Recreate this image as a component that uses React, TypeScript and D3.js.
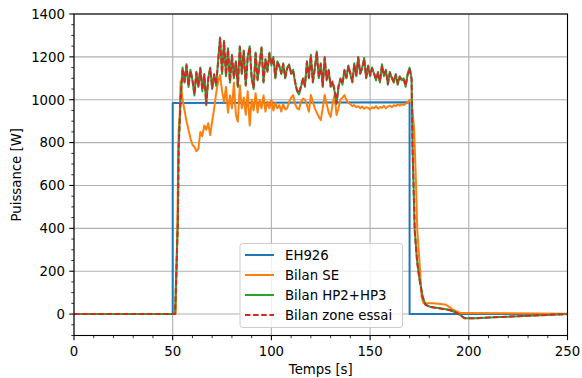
import React from "react";
import * as d3 from "d3";

// ---------- DATA ----------
const coreSeconds = [
  54, 55, 56, 57, 58, 59, 60, 61, 62, 63, 64, 65, 66, 67, 68, 69, 70, 71, 72, 73,
  74, 75, 76, 77, 78, 79, 80, 81, 82, 83, 84, 85, 86, 87, 88, 89, 90, 91, 92, 93,
  94, 95, 96, 97, 98, 99, 100, 101, 102, 103, 104, 105, 106, 107, 108, 109, 110, 111, 112, 113,
  114, 115, 116, 117, 118, 119, 120, 121, 122, 123, 124, 125, 126, 127, 128, 129, 130, 131, 132, 133,
  134, 135, 136, 137, 138, 139, 140, 141, 142, 143, 144, 145, 146, 147, 148, 149, 150, 151, 152, 153,
  154, 155, 156, 157, 158, 159, 160, 161, 162, 163, 164, 165, 166, 167, 168, 169, 170,
];

// EH926 (step)
const ehSeconds = [0, 50, 50, 170, 170, 250];
const ehWatts = [0, 0, 985, 988, 0, 0];

// Bilan SE
const seHeadSeconds = [0, 51.5, 52, 52.5, 53, 53.5];
const seHeadWatts = [0, 0, 200, 520, 850, 920];
const seCoreWatts = [
  1085, 1000, 950, 900, 860, 820, 790, 780, 760, 770, 850, 830, 880, 860, 890, 835, 900, 960, 1030, 1085,
  1115, 1040, 990, 1060, 940, 1020, 960, 1080, 930, 897, 1068, 960, 1010, 930, 1040, 880, 1000, 950, 1030, 940,
  1000, 960, 1020, 945, 990, 960, 1000, 950, 985, 960, 975, 945, 980, 955, 960, 990, 1010, 1022, 980, 960,
  955, 990, 1005, 1000, 975, 944, 1022, 990, 960, 940, 920, 905, 960, 1022, 980, 940, 920, 980, 1022, 929,
  960, 1000, 1010, 1022, 1000, 985, 980, 970, 975, 965, 970, 960, 968, 958, 965, 962, 955, 965, 960, 970,
  958, 966, 962, 972, 960, 968, 972, 965, 975, 970, 978, 972, 980, 975, 982, 985, 1000,
];
const seTailSeconds = [171, 172.3, 173.2, 173.9, 175.3, 176.1, 177, 182, 188, 189.5, 192, 195.5, 200, 220, 250];
const seTailWatts = [1000, 860, 625, 392, 205, 80, 52, 50, 45, 37, 20, 5, 5, 4, 1];

// Bilan HP2+HP3
const hpHeadSeconds = [0, 51.2, 51.8, 52.6, 53, 53.5];
const hpHeadWatts = [0, 0, 190, 424, 780, 890];
const hpCoreWatts = [
  1000, 1150, 1080, 1165, 1060, 1140, 1090, 1020, 1130, 1060, 1150, 1040, 1120, 975, 1100, 1150, 1050, 1120, 1065, 1180,
  1290, 1120, 1275, 1110, 1240, 1080, 1210, 1100, 1180, 1060, 1250, 1120, 1230, 1065, 1200, 1250, 1100, 1050, 1220, 1090,
  1170, 1245, 1080, 1190, 1130, 1220, 1160, 1200, 1100, 1180, 1160, 1120, 1170, 1100, 1150, 1165, 1120, 1140, 1080, 1040,
  1025, 1060, 1100, 1060, 1180, 1100, 1210, 1080, 1150, 1225, 1100, 1170, 1060, 1200, 1090, 1140, 1060, 1080, 1040, 980,
  1060, 1100, 1070, 1140, 1100, 1160, 1120, 1080, 1170, 1110, 1200, 1120, 1150, 1195, 1100, 1160, 1110, 1150, 1120, 1090,
  1130, 1080, 1165, 1110, 1140, 1070, 1130, 1100, 1080, 1120, 1070, 1110, 1090, 1100, 1060, 1120, 1150,
];
const hpTailSeconds = [171, 171.5, 172.6, 173.8, 174.9, 176.6, 178, 180.3, 187, 190.5, 194, 198, 204, 210, 220, 230, 240, 250];
const hpTailWatts = [1100, 780, 392, 250, 170, 81, 45, 34, 25, 19, 5, -19, -19, -16, -12, -8, -4, 0];

// Bilan zone essai
const zeHeadSeconds = [0, 51.2, 51.8, 52.6, 53, 53.5];
const zeHeadWatts = [0, 0, 185, 420, 775, 885];
const zeCoreWatts = [
  1005, 1145, 1085, 1160, 1065, 1135, 1095, 1025, 1125, 1065, 1145, 1045, 1115, 980, 1095, 1145, 1055, 1115, 1070, 1175,
  1285, 1125, 1270, 1115, 1235, 1085, 1205, 1105, 1175, 1065, 1245, 1125, 1225, 1070, 1195, 1245, 1105, 1055, 1215, 1095,
  1165, 1240, 1085, 1185, 1135, 1215, 1165, 1195, 1105, 1175, 1155, 1125, 1165, 1105, 1145, 1160, 1125, 1135, 1085, 1045,
  1030, 1065, 1095, 1065, 1175, 1105, 1205, 1085, 1145, 1220, 1105, 1165, 1065, 1195, 1095, 1135, 1065, 1085, 1045, 985,
  1065, 1095, 1075, 1135, 1105, 1155, 1125, 1085, 1165, 1115, 1195, 1125, 1145, 1190, 1105, 1155, 1115, 1145, 1125, 1095,
  1125, 1085, 1160, 1115, 1135, 1075, 1125, 1105, 1085, 1115, 1075, 1105, 1095, 1095, 1065, 1115, 1145,
];
const zeTailSeconds = [171, 171.5, 172.6, 173.8, 174.9, 176.6, 178, 180.3, 187, 190.5, 194, 198, 204, 210, 220, 230, 240, 250];
const zeTailWatts = [1095, 775, 390, 245, 168, 80, 44, 33, 24, 18, 4, -20, -19, -16, -12, -8, -4, 0];

const xTicks = [0, 50, 100, 150, 200, 250];
const yTicks = [0, 200, 400, 600, 800, 1000, 1200, 1400];
const legendLabels = ["EH926", "Bilan SE", "Bilan HP2+HP3", "Bilan zone essai"];

// ---------- LAYOUT ----------
const W = 582;
const H = 378;
const L = 74;
const R = 567.5;
const T = 14;
const B = 335.5;
const FONT = "DejaVu Sans, sans-serif";
const FS = 13.3;

type Pt = [number, number];
function zip(t: number[], w: number[]): Pt[] {
  return t.map((v, i) => [v, w[i]] as Pt);
}

export default function App() {
  const x = d3.scaleLinear().domain([0, 250]).range([L, R]);
  const y = d3.scaleLinear().domain([-100, 1400]).range([B, T]);
  const line = d3
    .line<Pt>()
    .x((d) => x(d[0]))
    .y((d) => y(d[1]));

  const eh = zip(ehSeconds, ehWatts);
  const se = [
    ...zip(seHeadSeconds, seHeadWatts),
    ...zip(coreSeconds, seCoreWatts),
    ...zip(seTailSeconds, seTailWatts),
  ];
  const hp = [
    ...zip(hpHeadSeconds, hpHeadWatts),
    ...zip(coreSeconds, hpCoreWatts),
    ...zip(hpTailSeconds, hpTailWatts),
  ];
  const ze = [
    ...zip(zeHeadSeconds, zeHeadWatts),
    ...zip(coreSeconds, zeCoreWatts),
    ...zip(zeTailSeconds, zeTailWatts),
  ];

  const xMinor = d3.range(0, 251, 10).filter((v) => v % 50 !== 0);
  const yMinor = d3.range(-100, 1401, 50).filter((v) => v % 200 !== 0);

  const series = [
    { d: eh, color: "#1f77b4", dash: undefined as string | undefined },
    { d: se, color: "#ff7f0e", dash: undefined },
    { d: hp, color: "#2ca02c", dash: undefined },
    { d: ze, color: "#d62728", dash: "5.5,2.6" },
  ];

  const legX = 240;
  const legY = 243.5;
  const rowY = [255, 275, 295, 315];

  return (
    <svg
      width={W}
      height={H}
      style={{ position: "absolute", left: 0, top: 0, background: "#fff" }}
      fontFamily={FONT}
    >
      <defs>
        <clipPath id="plot">
          <rect x={L} y={T} width={R - L} height={B - T} />
        </clipPath>
      </defs>
      <rect width={W} height={H} fill="#fff" />
      {/* grid */}
      {xTicks.map((t) => (
        <line key={"gx" + t} x1={x(t)} x2={x(t)} y1={T} y2={B} stroke="#b0b0b0" strokeWidth={1.1} />
      ))}
      {yTicks.map((t) => (
        <line key={"gy" + t} x1={L} x2={R} y1={y(t)} y2={y(t)} stroke="#b0b0b0" strokeWidth={1.1} />
      ))}
      {/* series */}
      <g clipPath="url(#plot)">
        {series.map((s, i) => (
          <path
            key={i}
            d={line(s.d) || ""}
            fill="none"
            stroke={s.color}
            strokeWidth={2}
            strokeDasharray={s.dash}
            strokeLinejoin="round"
          />
        ))}
      </g>
      {/* spines */}
      <rect x={L} y={T} width={R - L} height={B - T} fill="none" stroke="#000" strokeWidth={1.1} />
      {/* x ticks */}
      {xTicks.map((t) => (
        <g key={"xt" + t}>
          <line x1={x(t)} x2={x(t)} y1={B} y2={B + 4.7} stroke="#000" strokeWidth={1.1} />
          <text x={x(t)} y={B + 20.5} fontSize={FS} textAnchor="middle" fill="#000">
            {t}
          </text>
        </g>
      ))}
      {xMinor.map((t) => (
        <line key={"xm" + t} x1={x(t)} x2={x(t)} y1={B} y2={B + 2.7} stroke="#000" strokeWidth={0.8} />
      ))}
      {/* y ticks */}
      {yTicks.map((t) => (
        <g key={"yt" + t}>
          <line x1={L - 4.7} x2={L} y1={y(t)} y2={y(t)} stroke="#000" strokeWidth={1.1} />
          <text x={L - 9} y={y(t) + 4.8} fontSize={FS} textAnchor="end" fill="#000">
            {t}
          </text>
        </g>
      ))}
      {yMinor.map((t) => (
        <line key={"ym" + t} x1={L - 2.7} x2={L} y1={y(t)} y2={y(t)} stroke="#000" strokeWidth={0.8} />
      ))}
      {/* axis labels */}
      <text x={(L + R) / 2} y={374} fontSize={FS} textAnchor="middle" fill="#000">
        Temps [s]
      </text>
      <text
        transform={`translate(21,${(T + B) / 2}) rotate(-90)`}
        fontSize={FS}
        textAnchor="middle"
        fill="#000"
      >
        Puissance [W]
      </text>
      {/* legend */}
      <rect
        x={legX}
        y={legY}
        width={162.5}
        height={84}
        rx={2.5}
        fill="#fff"
        fillOpacity={0.8}
        stroke="#cccccc"
        strokeWidth={1}
      />
      {legendLabels.map((lab, i) => (
        <g key={lab}>
          <line
            x1={245}
            x2={274}
            y1={rowY[i]}
            y2={rowY[i]}
            stroke={series[i].color}
            strokeWidth={2}
            strokeDasharray={series[i].dash}
          />
          <text x={285} y={rowY[i] + 4.8} fontSize={FS} fill="#000">
            {lab}
          </text>
        </g>
      ))}
    </svg>
  );
}
